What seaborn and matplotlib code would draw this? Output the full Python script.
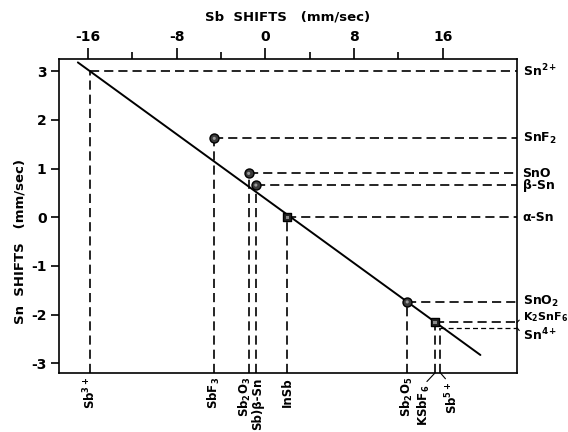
import matplotlib
matplotlib.use("Agg")
import matplotlib.pyplot as plt
import seaborn as sns
import pandas as pd

# Sn compounds (right-hand labels) and their Sb counterparts (bottom labels)
sn_labels = ["Sn$^{2+}$", "SnF$_2$", "SnO", "β-Sn", "α-Sn", "SnO$_2$", "K$_2$SnF$_6$", "Sn$^{4+}$"]
sb_labels = ["Sb$^{3+}$", "SbF$_3$", "Sb$_2$O$_3$", "Sb)β-Sn", "InSb", "Sb$_2$O$_5$", "KSbF$_6$", "Sb$^{5+}$"]
# isomer shifts (mm/sec)
sb_shift = [-15.8, -4.6, -1.5, -0.85, 2.0, 12.8, 15.3, 15.8]
sn_shift = [3.0, 1.62, 0.90, 0.66, 0.0, -1.74, -2.16, -2.27]
# marker kind for each pair ("" = ionic limit, no marker)
kind = ["", "circle", "circle", "circle", "square", "circle", "square", ""]

# correlation line end points
line_sb = [-16.9, 19.4]
line_sn = [3.18, -2.83]

top_ticks = [-16, -8, 0, 8, 16]
top_minor = [-12, -4, 4, 12]
left_ticks = [-3, -2, -1, 0, 1, 2, 3]

sns.set_style("ticks")
plt.rcParams["font.family"] = ["DejaVu Sans"]
plt.rcParams["mathtext.fontset"] = "dejavusans"
plt.rcParams["mathtext.default"] = "bf"
plt.rcParams["text.color"] = "black"
plt.rcParams["axes.labelcolor"] = "black"
plt.rcParams["xtick.color"] = "black"
plt.rcParams["ytick.color"] = "black"

fig = plt.figure(figsize=(5.68, 4.32), dpi=100)
ax = fig.add_axes([59 / 568, 1 - 373 / 432, (517 - 59) / 568, (373 - 59) / 432])
XL = (-18.6, 22.7)
YL = (-3.2, 3.25)
ax.set_xlim(*XL)
ax.set_ylim(*YL)

df = pd.DataFrame({"sb": sb_shift, "sn": sn_shift, "kind": kind,
                   "sn_label": sn_labels, "sb_label": sb_labels})
line_df = pd.DataFrame({"sb": line_sb, "sn": line_sn})

dash = (0, (5.5, 3))
for i, r in df.iterrows():
    fine = r["sn_label"] == "Sn$^{4+}$"
    ax.hlines(r["sn"], r["sb"], XL[1], colors="black",
              lw=0.9 if fine else 1.2, linestyles=(0, (4, 2.5)) if fine else dash, zorder=2)
    ax.vlines(r["sb"], YL[0], r["sn"], colors="black", lw=1.2, linestyles=dash, zorder=2)

sns.lineplot(data=line_df, x="sb", y="sn", color="black", lw=1.4, ax=ax, zorder=3)

circ = df[df["kind"] == "circle"]
sq = df[df["kind"] == "square"]
sns.scatterplot(data=circ, x="sb", y="sn", marker="o", s=42, color="#3a3a3a",
                edgecolor="black", linewidth=1.0, ax=ax, zorder=4)
sns.scatterplot(data=circ, x="sb", y="sn", marker="o", s=5, color="#9a9a9a",
                edgecolor="none", ax=ax, zorder=5)
sns.scatterplot(data=sq, x="sb", y="sn", marker="s", s=40, color="#222222",
                edgecolor="black", linewidth=1.0, ax=ax, zorder=4)
sns.scatterplot(data=sq, x="sb", y="sn", marker="s", s=6, color="#8a8a8a",
                edgecolor="none", ax=ax, zorder=5)

# axes: Sb scale on top, Sn scale on the left
ax.xaxis.tick_top()
ax.xaxis.set_label_position("top")
ax.set_xticks(top_ticks)
ax.set_xticks(top_minor, minor=True)
ax.set_xticklabels([f"{t:d}" for t in top_ticks], fontsize=10, fontweight="bold")
ax.tick_params(axis="x", which="major", length=8, width=1.2, direction="out", pad=3)
ax.tick_params(axis="x", which="minor", length=5, width=1.2, direction="out")
ax.set_yticks(left_ticks)
ax.set_yticklabels([f"{t:d}" for t in left_ticks], fontsize=10, fontweight="bold")
ax.tick_params(axis="y", which="major", length=6, width=1.2, direction="out", pad=3)
ax.tick_params(right=False, bottom=False)
ax.set_xlabel("Sb  SHIFTS   (mm/sec)", fontsize=9.5, fontweight="bold", labelpad=7)
ax.set_ylabel("Sn  SHIFTS   (mm/sec)", fontsize=9.5, fontweight="bold")
ax.yaxis.set_label_coords(-0.072, 0.42)
for s in ax.spines.values():
    s.set_linewidth(1.2)
    s.set_color("black")

# right-hand Sn compound labels
right_off = {"K$_2$SnF$_6$": (4, 4), "Sn$^{4+}$": (4, -5)}
for i, r in df.iterrows():
    lab = r["sn_label"]
    fs = 8 if lab == "K$_2$SnF$_6$" else 9
    if lab in right_off:
        dx, dy = right_off[lab]
        ax.annotate(lab, xy=(1, r["sn"]), xycoords=("axes fraction", "data"),
                    xytext=(dx, dy), textcoords="offset points", ha="left", va="center",
                    fontsize=fs, fontweight="bold",
                    arrowprops=dict(arrowstyle="-", lw=0.8, color="black",
                                    shrinkA=0, shrinkB=0, relpos=(0, 0.5)))
    else:
        ax.annotate(lab, xy=(1, r["sn"]), xycoords=("axes fraction", "data"),
                    xytext=(4, 0), textcoords="offset points", ha="left", va="center",
                    fontsize=fs, fontweight="bold")

# bottom Sb compound labels, rotated
bottom_off = {"KSbF$_6$": (-8, -8.5, (0.5, 1)), "Sb$^{5+}$": (8, -6.5, (0.3, 1))}
nudge = {"Sb$_2$O$_3$": -3, "Sb)β-Sn": 1.5}
for i, r in df.iterrows():
    lab = r["sb_label"]
    if lab in bottom_off:
        dx, dy, rp = bottom_off[lab]
        ax.annotate(lab, xy=(r["sb"], 0), xycoords=("data", "axes fraction"),
                    xytext=(dx, dy), textcoords="offset points", rotation=90,
                    ha="center", va="top", fontsize=8.5, fontweight="bold",
                    arrowprops=dict(arrowstyle="-", lw=0.8, color="black",
                                    shrinkA=0, shrinkB=0, relpos=rp))
    else:
        ax.annotate(lab, xy=(r["sb"], 0), xycoords=("data", "axes fraction"),
                    xytext=(nudge.get(lab, 0), -3), textcoords="offset points", rotation=90,
                    ha="center", va="top", fontsize=8.5, fontweight="bold")

fig.savefig("out.png", dpi=100)
